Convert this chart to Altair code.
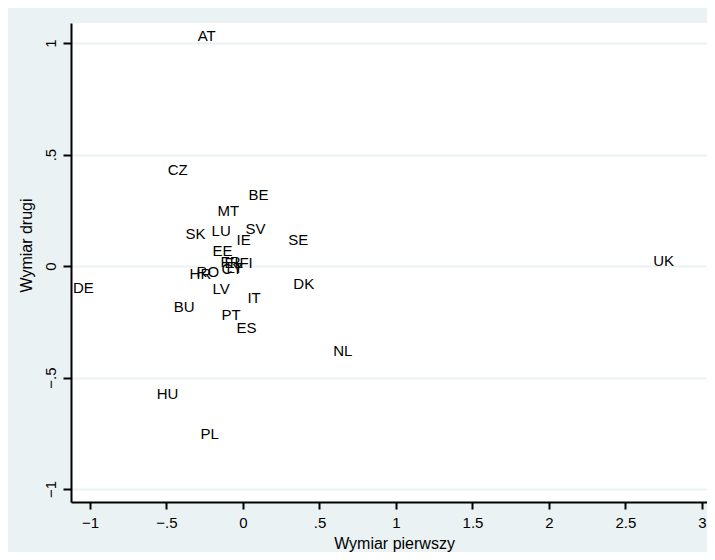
import altair as alt
import pandas as pd

labels = ["AT", "CZ", "BE", "MT", "SK", "LU", "SV", "IE", "SE", "EE", "UK",
          "FR", "EL", "FI", "CY", "LT", "HR", "RO", "LV", "DE", "DK", "IT",
          "BU", "PT", "ES", "NL", "HU", "PL"]
dim1 = [-0.309, -0.505, 0.023, -0.179, -0.388, -0.218, 0.003, -0.055, 0.283, -0.212, 2.668,
        -0.160, -0.134, -0.036, -0.153, -0.121, -0.362, -0.316, -0.212, -1.124, 0.316, 0.016,
        -0.466, -0.153, -0.055, 0.577, -0.577, -0.290]
dim2 = [1.031, 0.430, 0.318, 0.247, 0.143, 0.157, 0.166, 0.117, 0.117, 0.067, 0.022,
        0.018, 0.013, 0.013, -0.013, -0.009, -0.036, -0.027, -0.103, -0.099, -0.081, -0.143,
        -0.184, -0.220, -0.278, -0.381, -0.574, -0.753]

x_ticks = [-1, -0.5, 0, 0.5, 1, 1.5, 2, 2.5, 3]
y_ticks = [-1, -0.5, 0, 0.5, 1]

df = pd.DataFrame({"label": labels, "x": dim1, "y": dim2})

stata_fmt = "datum.value == 0 ? '0' : replace(format(datum.value, '~g'), '0.', '.')"
FONT = "Liberation Sans"
BG = "#EAF2F3"

chart = alt.Chart(df).mark_text(
    align="left", baseline="middle", dx=2, font=FONT, fontSize=15, color="black"
).encode(
    x=alt.X("x:Q",
            scale=alt.Scale(domain=[-1.124, 3.033], nice=False, zero=False),
            axis=alt.Axis(title="Wymiar pierwszy", values=x_ticks, labelExpr=stata_fmt,
                          grid=False, tickSize=7, tickWidth=2, tickColor="black",
                          domainColor="black", domainWidth=2,
                          labelFont=FONT, labelFontSize=15, labelColor="black",
                          labelPadding=6, labelFlush=False,
                          titleFont=FONT, titleFontSize=16, titleFontWeight="normal",
                          titleColor="black", titleX=323, titleY=46,
                          titleBaseline="alphabetic", titleAlign="center")),
    y=alt.Y("y:Q",
            scale=alt.Scale(domain=[-1.058, 1.090], nice=False, zero=False),
            axis=alt.Axis(title="Wymiar drugi", values=y_ticks, labelExpr=stata_fmt,
                          grid=True, gridColor=BG, gridWidth=2,
                          tickSize=8, tickWidth=2, tickColor="black",
                          domainColor="black", domainWidth=2,
                          labelFont=FONT, labelFontSize=15, labelColor="black",
                          labelAngle=270, labelAlign="center", labelBaseline="alphabetic",
                          labelPadding=8, labelFlush=False,
                          titleFont=FONT, titleFontSize=16, titleFontWeight="normal",
                          titleColor="black", titleAngle=270, titleX=-40, titleY=222,
                          titleBaseline="alphabetic", titleAlign="center")),
    text="label:N",
).properties(
    width=636, height=479,
    autosize=alt.AutoSizeParams(type="none"),
    padding={"left": 63, "top": 15, "right": 0, "bottom": 50},
    background=BG,
).configure_view(fill="white", stroke=None)

chart.save("out.html", embed_options={"renderer": "svg", "actions": False})
